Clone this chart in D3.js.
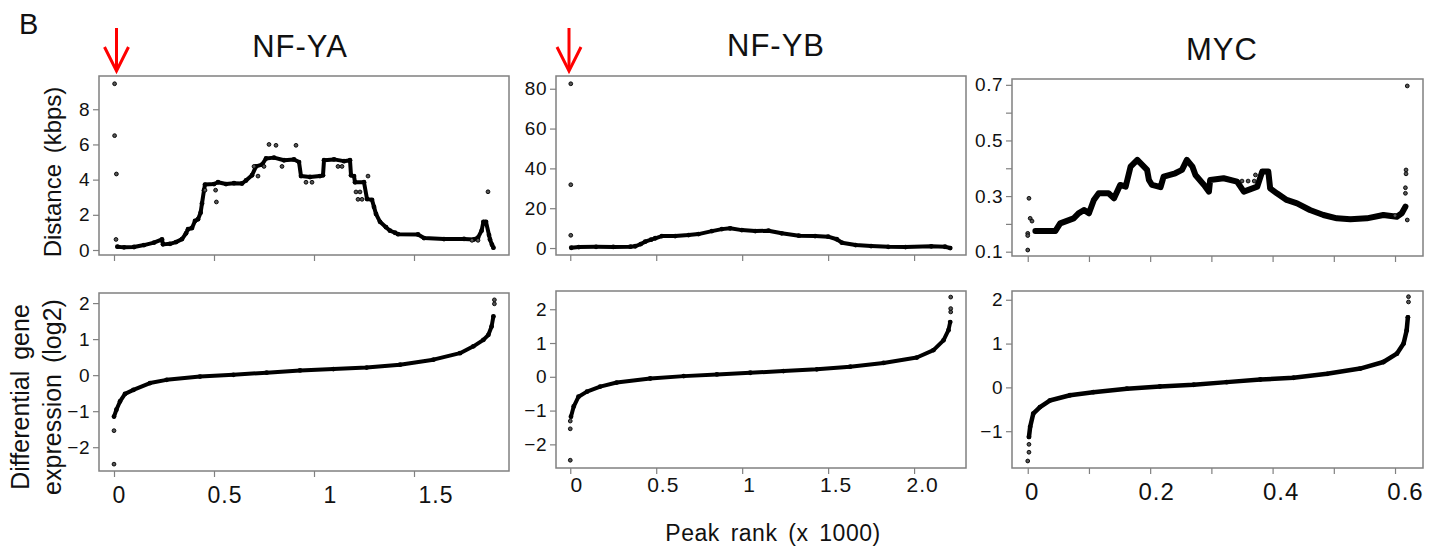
<!DOCTYPE html>
<html>
<head>
<meta charset="utf-8">
<script src="https://cdn.jsdelivr.net/npm/d3@7"></script>
<style>
  body { margin: 0; background: #fff; }
  svg text { font-family: "Liberation Sans", Arial, sans-serif; fill: #111; }
</style>
</head>
<body>
<svg id="fig" width="1436" height="552"></svg>
<script>
// ---- data (rank in thousands) ----
var titles = ["NF-YA", "NF-YB", "MYC"];

// distance (kbps) vs peak rank, the dense band
var nfyaDist = [[0.017,0.19],[0.05,0.15],[0.10,0.17],[0.15,0.28],[0.20,0.42],[0.24,0.6],[0.245,0.32],
  [0.28,0.35],[0.31,0.45],[0.34,0.62],[0.36,0.95],[0.37,1.18],[0.39,1.25],[0.405,1.65],[0.42,1.75],
  [0.433,2.12],[0.44,2.65],[0.45,3.4],[0.455,3.72],[0.50,3.75],[0.52,3.85],[0.56,3.75],[0.60,3.8],
  [0.64,3.78],[0.66,3.95],[0.69,4.25],[0.71,4.75],[0.74,4.85],[0.76,5.2],[0.80,5.25],[0.85,5.1],
  [0.90,5.15],[0.925,5.0],[0.935,4.2],[0.98,4.15],[1.03,4.2],[1.045,4.25],[1.05,5.1],[1.10,5.15],
  [1.15,5.05],[1.18,5.1],[1.185,4.25],[1.20,4.2],[1.205,3.85],[1.25,3.85],[1.265,2.9],[1.29,2.85],
  [1.30,2.45],[1.31,2.05],[1.33,1.6],[1.36,1.3],[1.38,1.1],[1.405,0.98],[1.42,0.9],[1.52,0.88],
  [1.55,0.68],[1.65,0.62],[1.75,0.63],[1.80,0.6],[1.82,0.7],[1.838,1.1],[1.847,1.6],[1.86,1.6],
  [1.875,0.85],[1.88,0.6],[1.89,0.3],[1.897,0.13]];
var nfyaDistOut = [[0.003,9.45],[0.003,6.5],[0.012,4.32],[0.01,0.6],[0.455,3.4],[0.508,3.4],[0.512,2.73],
  [0.775,6.0],[0.81,5.95],[0.91,5.95],[0.84,4.75],[0.72,4.2],[0.70,4.75],[0.75,4.75],[0.96,3.85],
  [0.99,3.85],[1.12,4.75],[1.14,4.75],[1.21,3.3],[1.23,3.3],[1.22,2.88],[1.24,2.88],[1.27,4.2],
  [1.87,3.31],[1.82,0.55],[1.79,0.55]];

var nfybDist = [[0.006,0.15],[0.05,0.5],[0.15,0.6],[0.25,0.55],[0.35,0.7],[0.378,0.9],[0.41,2.0],
  [0.436,3.2],[0.47,4.2],[0.494,4.9],[0.533,6.0],[0.61,6.0],[0.688,6.5],[0.746,7.0],[0.824,8.5],
  [0.882,9.5],[0.93,9.9],[0.998,9.0],[1.076,8.5],[1.153,8.7],[1.23,7.4],[1.33,6.2],[1.424,6.0],
  [1.50,5.7],[1.55,4.4],[1.58,2.7],[1.66,1.5],[1.75,1.0],[1.85,0.6],[1.95,0.5],[2.10,0.85],
  [2.18,0.65],[2.21,0.0]];
var nfybDistOut = [[0.003,82.5],[0.003,31.8],[0.003,6.4]];

var mycDist = [[0.0125,0.174],[0.045,0.174],[0.053,0.202],[0.075,0.22],[0.083,0.238],[0.092,0.25],
  [0.10,0.238],[0.108,0.286],[0.116,0.31],[0.132,0.31],[0.141,0.292],[0.151,0.34],[0.16,0.334],
  [0.168,0.406],[0.179,0.43],[0.187,0.412],[0.195,0.394],[0.198,0.358],[0.203,0.34],[0.217,0.332],
  [0.222,0.37],[0.241,0.382],[0.252,0.394],[0.26,0.43],[0.269,0.406],[0.274,0.376],[0.288,0.34],
  [0.296,0.316],[0.298,0.358],[0.32,0.364],[0.342,0.352],[0.353,0.316],[0.375,0.334],[0.383,0.388],
  [0.393,0.388],[0.396,0.328],[0.407,0.31],[0.423,0.286],[0.44,0.274],[0.461,0.25],[0.483,0.232],
  [0.505,0.22],[0.527,0.217],[0.554,0.22],[0.581,0.232],[0.603,0.226],[0.611,0.238],[0.617,0.262]];
var mycDistOut = [[0.0,0.106],[0.002,0.292],[0.0,0.166],[0.0,0.158],[0.004,0.22],[0.007,0.21],
  [0.35,0.354],[0.36,0.354],[0.37,0.354],[0.372,0.376],[0.60,0.23],
  [0.618,0.394],[0.618,0.38],[0.617,0.33],[0.617,0.31],[0.62,0.214],[0.62,0.696]];

// differential gene expression (log2) vs peak rank
var nfyaExpr = [[0.0,-1.15],[0.012,-0.96],[0.03,-0.73],[0.055,-0.52],[0.097,-0.41],[0.18,-0.22],
  [0.263,-0.13],[0.43,-0.04],[0.597,0.01],[0.763,0.07],[0.93,0.13],[1.097,0.17],[1.263,0.21],
  [1.43,0.29],[1.597,0.43],[1.73,0.61],[1.797,0.8],[1.847,0.98],[1.872,1.12],[1.888,1.35],[1.897,1.63]];
var nfyaExprOut = [[0.0,-2.47],[0.0,-1.54],[1.902,1.98],[1.902,2.09]];

var nfybExpr = [[0.004,-1.18],[0.02,-0.88],[0.048,-0.59],[0.097,-0.44],[0.174,-0.29],[0.27,-0.17],
  [0.465,-0.05],[0.66,0.02],[0.853,0.07],[1.047,0.12],[1.24,0.17],[1.434,0.22],[1.628,0.3],
  [1.822,0.41],[2.016,0.57],[2.113,0.79],[2.171,1.08],[2.20,1.38],[2.21,1.62]];
var nfybExprOut = [[0.0,-2.47],[0.0,-1.54],[0.0,-1.31],[2.213,1.92],[2.213,2.02],[2.213,2.36]];

var mycExpr = [[0.002,-1.13],[0.004,-0.9],[0.009,-0.6],[0.02,-0.45],[0.036,-0.3],[0.069,-0.18],
  [0.107,-0.11],[0.162,-0.03],[0.216,0.02],[0.271,0.06],[0.325,0.12],[0.38,0.18],[0.434,0.22],
  [0.489,0.31],[0.543,0.43],[0.581,0.58],[0.603,0.77],[0.614,1.0],[0.619,1.3],[0.621,1.6]];
var mycExprOut = [[0.0,-1.68],[0.002,-1.48],[0.002,-1.3],[0.622,1.95],[0.622,2.07]];

// ticks
var xTicksA = [0, 0.5, 1, 1.5], xLabA = ["0", "0.5", "1", "1.5"];
var xTicksB = [0, 0.5, 1, 1.5, 2], xLabB = ["0", "0.5", "1", "1.5", "2.0"];
var xTicksC = [0, 0.1, 0.2, 0.3, 0.4, 0.5, 0.6], xLabC = ["0", "", "0.2", "", "0.4", "", "0.6"];
var yTicksDistA = [0, 2, 4, 6, 8];
var yTicksDistB = [0, 20, 40, 60, 80];
var yTicksDistC = [0.1, 0.2, 0.3, 0.4, 0.5, 0.6, 0.7], yLabDistC = ["0.1", "", "0.3", "", "0.5", "", "0.7"];
var yTicksExprAB = [-2, -1, 0, 1, 2];
var yTicksExprC = [-1, 0, 1, 2];

// ---- layout ----
var svg = d3.select("#fig");
var frameColor = "#808080";

var panels = [
  {band: nfyaDist, out: nfyaDistOut, left: 99, right: 509, top: 76, bottom: 255,
   xd: [-0.075, 1.975], yd: [-0.284, 9.89], xt: xTicksA, yt: yTicksDistA, bw: 4},
  {band: nfybDist, out: nfybDistOut, left: 556, right: 966, top: 76, bottom: 255,
   xd: [-0.083, 2.302], yd: [-3.5, 86.4], xt: xTicksB, yt: yTicksDistB, bw: 4},
  {band: mycDist, out: mycDistOut, left: 1012, right: 1423, top: 79, bottom: 256,
   xd: [-0.0257, 0.6457], yd: [0.0845, 0.721], xt: xTicksC, yt: yTicksDistC, yl: yLabDistC, bw: 6},
  {band: nfyaExpr, out: nfyaExprOut, left: 99, right: 509, top: 293, bottom: 471,
   xd: [-0.075, 1.975], yd: [-2.66, 2.28], xt: xTicksA, xl: xLabA, yt: yTicksExprAB, bw: 4,
   lab: {size: 23, y: 503, dx0: 5, dk: 11}},
  {band: nfybExpr, out: nfybExprOut, left: 556, right: 966, top: 291, bottom: 468,
   xd: [-0.083, 2.302], yd: [-2.70, 2.54], xt: xTicksB, xl: xLabB, yt: yTicksExprAB, bw: 4,
   lab: {size: 21, y: 492, dx0: 6, dk: 1}},
  {band: mycExpr, out: mycExprOut, left: 1012, right: 1423, top: 291, bottom: 468,
   xd: [-0.0257, 0.6457], yd: [-1.84, 2.2], xt: xTicksC, xl: xLabC, yt: yTicksExprC, bw: 4.5,
   lab: {size: 24, y: 500, dx0: 4, dk: 10}}
];

panels.forEach(function(p) {
  var x = d3.scaleLinear().domain(p.xd).range([p.left, p.right]);
  var y = d3.scaleLinear().domain(p.yd).range([p.bottom, p.top]);

  // y axis
  var yAxis = d3.axisLeft(y).tickValues(p.yt).tickSize(6).tickPadding(3);
  if (p.yl) yAxis.tickFormat(function(d, i) { return p.yl[i]; });
  else yAxis.tickFormat(d3.format("~g"));
  var gy = svg.append("g").attr("transform", "translate(" + p.left + ",0)").call(yAxis);
  gy.select(".domain").remove();
  gy.selectAll("line").attr("stroke", frameColor).attr("stroke-width", 1.2);
  gy.selectAll("text").style("font-size", "19px").style("letter-spacing", "0.5px").attr("fill", "#111");

  // x axis
  var xAxis = d3.axisBottom(x).tickValues(p.xt).tickSize(6);
  if (p.xl) xAxis.tickFormat(function(d, i) { return p.xl[i]; });
  else xAxis.tickFormat("");
  var gx = svg.append("g").attr("transform", "translate(0," + p.bottom + ")").call(xAxis);
  gx.select(".domain").remove();
  gx.selectAll("line").attr("stroke", frameColor).attr("stroke-width", 1.2);
  if (p.lab) {
    gx.selectAll("text")
      .attr("y", p.lab.y - p.bottom).attr("dy", 0)
      .attr("dx", function(d) { return p.lab.dx0 + d * p.lab.dk; })
      .style("font-size", p.lab.size + "px").style("letter-spacing", "1px").attr("fill", "#111");
  }

  // frame
  svg.append("rect")
    .attr("x", p.left).attr("y", p.top)
    .attr("width", p.right - p.left).attr("height", p.bottom - p.top)
    .attr("fill", "none").attr("stroke", frameColor).attr("stroke-width", 1.5);

  // dense band of points
  svg.append("path")
    .datum(p.band)
    .attr("fill", "none").attr("stroke", "#000")
    .attr("stroke-width", p.bw).attr("stroke-linejoin", "round").attr("stroke-linecap", "round")
    .attr("d", d3.line().x(function(d) { return x(d[0]); }).y(function(d) { return y(d[1]); }));
  svg.append("g").selectAll("circle")
    .data(p.band).enter().append("circle")
    .attr("cx", function(d) { return x(d[0]); })
    .attr("cy", function(d) { return y(d[1]); })
    .attr("r", 2.4).attr("fill", "#000");

  // isolated points
  svg.append("g").selectAll("circle")
    .data(p.out).enter().append("circle")
    .attr("cx", function(d) { return x(d[0]); })
    .attr("cy", function(d) { return y(d[1]); })
    .attr("r", 1.9).attr("fill", "#555").attr("stroke", "#000").attr("stroke-width", 0.9);
});

// panel letter and titles
svg.append("text").attr("x", 19).attr("y", 34).style("font-size", "29px").text("B");
var titleX = [300, 776, 1222], titleY = [57, 56, 60];
titles.forEach(function(t, i) {
  svg.append("text").attr("x", titleX[i]).attr("y", titleY[i]).attr("text-anchor", "middle")
    .style("font-size", "31px").style("letter-spacing", "1px").text(t);
});

// red arrows over the first peaks
[116.5, 569].forEach(function(ax) {
  var g = svg.append("g").attr("stroke", "#ff0000").attr("stroke-width", 3).attr("fill", "none");
  g.append("line").attr("x1", ax).attr("y1", 28).attr("x2", ax).attr("y2", 70);
  g.append("polyline").attr("points", (ax - 12) + ",47 " + ax + ",71 " + (ax + 12) + ",47");
});

// axis titles
svg.append("text").attr("transform", "translate(61,172) rotate(-90)").attr("text-anchor", "middle")
  .style("font-size", "24px").style("word-spacing", "4px").text("Distance (kbps)");
svg.append("text").attr("transform", "translate(29,397) rotate(-90)").attr("text-anchor", "middle")
  .style("font-size", "25px").style("word-spacing", "4px").text("Differential gene");
svg.append("text").attr("transform", "translate(61,397) rotate(-90)").attr("text-anchor", "middle")
  .style("font-size", "25px").style("word-spacing", "4px").text("expression (log2)");
svg.append("text").attr("x", 773).attr("y", 541).attr("text-anchor", "middle")
  .style("font-size", "23px").style("word-spacing", "4px").style("letter-spacing", "0.5px")
  .text("Peak rank (x 1000)");
</script>
</body>
</html>
